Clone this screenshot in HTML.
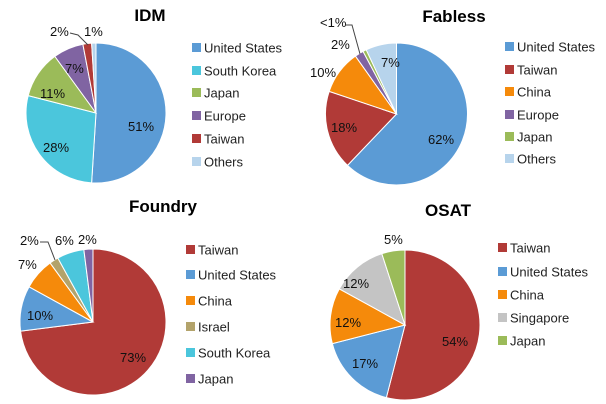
<!DOCTYPE html>
<html><head><meta charset="utf-8"><style>
html,body{margin:0;padding:0;background:#fff;}
svg{display:block;font-family:"Liberation Sans",sans-serif;}
</style></head><body>
<svg id="s" width="606" height="404" viewBox="0 0 606 404">
<g font-size="17" font-weight="bold" text-anchor="middle" fill="#000">
<text x="150" y="21">IDM</text>
<text x="454" y="22">Fabless</text>
<text x="163" y="212">Foundry</text>
<text x="448" y="216">OSAT</text>
</g>
<g id="pies"></g>
<g font-size="13" fill="#111">
<text x="128" y="131">51%</text><text x="43" y="152">28%</text><text x="40" y="98">11%</text><text x="65" y="73">7%</text>
<text x="50" y="36">2%</text><text x="84" y="36">1%</text>
<text x="428" y="144">62%</text><text x="331" y="132">18%</text><text x="310" y="77">10%</text><text x="331" y="49">2%</text><text x="320" y="27">&lt;1%</text><text x="381" y="67">7%</text>
<text x="120" y="362">73%</text><text x="27" y="320">10%</text><text x="18" y="269">7%</text><text x="20" y="245">2%</text><text x="55" y="245">6%</text><text x="78" y="244">2%</text>
<text x="442" y="346">54%</text><text x="352" y="368">17%</text><text x="335" y="327">12%</text><text x="343" y="288">12%</text><text x="384" y="244">5%</text>
</g>
<g fill="none" stroke="#444" stroke-width="1">
<polyline points="70,33 78,35 88,45"/>
<polyline points="346,25 352,25 360,54"/>
<polyline points="40,242 48,242 55,260"/>
</g>
<g id="leg" font-size="13" fill="#222"></g>
</svg>
<script>
var C={bl:"#5b9bd5",cy:"#4bc6dc",gr:"#9bbb59",pu:"#8064a2",rd:"#b13a37",lb:"#b7d4ec",or:"#f58a0b",tn:"#b3a36b",gy:"#c4c4c4"};
function pie(cx,cy,r,data){var tot=0;data.forEach(function(d){tot+=d[0]});var a=0,h="";
data.forEach(function(d){var a2=a+d[0]/tot*2*Math.PI;
var x1=cx+r*Math.sin(a),y1=cy-r*Math.cos(a),x2=cx+r*Math.sin(a2),y2=cy-r*Math.cos(a2);
h+='<path d="M'+cx+','+cy+' L'+x1+','+y1+' A'+r+','+r+' 0 '+((a2-a)>Math.PI?1:0)+' 1 '+x2+','+y2+' Z" fill="'+C[d[1]]+'" stroke="#fff" stroke-width="1"/>';a=a2;});return h;}
var g=document.getElementById("pies");
g.innerHTML=pie(96,113,70,[[51,"bl"],[28,"cy"],[11,"gr"],[7,"pu"],[2,"rd"],[1,"lb"]])+
pie(396.5,114,71,[[62,"bl"],[18,"rd"],[10,"or"],[2,"pu"],[0.8,"gr"],[7,"lb"]])+
pie(93,322,73,[[73,"rd"],[10,"bl"],[7,"or"],[2,"tn"],[6,"cy"],[2,"pu"]])+
pie(405,325,75,[[54,"rd"],[17,"bl"],[12,"or"],[12,"gy"],[5,"gr"]]);
function leg(x,ys,items){var h="";items.forEach(function(it,i){h+='<rect x="'+x+'" y="'+(ys[i]-5)+'" width="9" height="9" fill="'+C[it[1]]+'"/><text x="'+(x+12)+'" y="'+(ys[i]+4.5)+'">'+it[0]+'</text>';});return h;}
document.getElementById("leg").innerHTML=
leg(192,[48,71,93,116,139,162],[["United States","bl"],["South Korea","cy"],["Japan","gr"],["Europe","pu"],["Taiwan","rd"],["Others","lb"]])+
leg(505,[47,70,92,115,137,159],[["United States","bl"],["Taiwan","rd"],["China","or"],["Europe","pu"],["Japan","gr"],["Others","lb"]])+
leg(186,[250,275,301,327,353,379],[["Taiwan","rd"],["United States","bl"],["China","or"],["Israel","tn"],["South Korea","cy"],["Japan","pu"]])+
leg(498,[248,272,295,318,341],[["Taiwan","rd"],["United States","bl"],["China","or"],["Singapore","gy"],["Japan","gr"]]);
</script>
</body></html>
